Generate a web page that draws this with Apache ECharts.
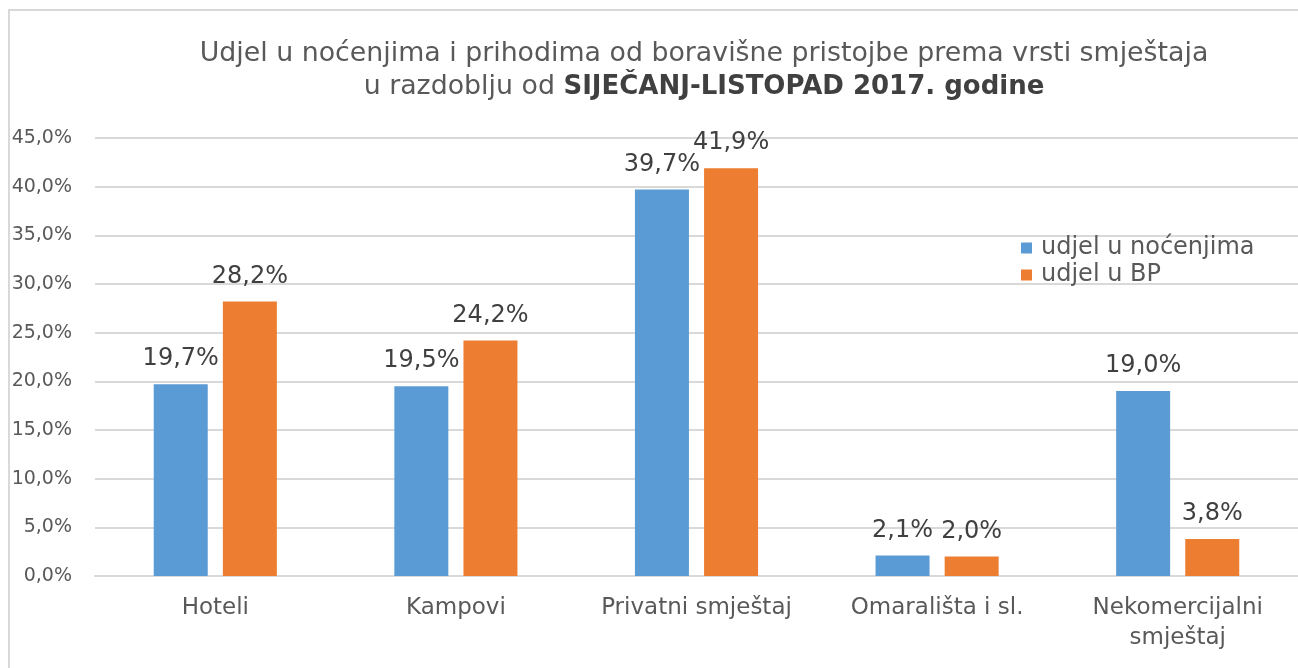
<!DOCTYPE html>
<html lang="hr" style="height: 100%">
<head>
    <meta charset="utf-8">
    <title>Udjel u noćenjima i prihodima od boravišne pristojbe</title>
    <script src="https://cdn.jsdelivr.net/npm/echarts@6/dist/echarts.min.js"></script>
</head>
<body style="height: 100%; margin: 0; background: #fff">
<div id="container" style="width: 1298px; height: 668px"></div>
<script type="text/javascript">
    // data
    const categories = ['Hoteli', 'Kampovi', 'Privatni smještaj', 'Omarališta i sl.', 'Nekomercijalni\nsmještaj'];
    const nocenja = [19.7, 19.5, 39.7, 2.1, 19.0];
    const boravisna = [28.2, 24.2, 41.9, 2.0, 3.8];
    const seriesNames = ['udjel u noćenjima', 'udjel u BP'];

    const font = '"DejaVu Sans", Verdana, sans-serif';

    function pct(v) {
        return Number(v).toFixed(1).replace('.', ',') + '%';
    }

    var myChart = echarts.init(document.getElementById('container'), null, {renderer: 'canvas'});

    var barLabel = {
        show: true,
        position: 'top',
        distance: 13,
        fontFamily: font,
        fontSize: 24,
        color: '#404040',
        formatter: function (p) { return pct(p.value); }
    };

    var option = {
        backgroundColor: '#ffffff',
        textStyle: {fontFamily: font},
        title: [
            {
                text: 'Udjel u noćenjima i prihodima od boravišne pristojbe prema vrsti smještaja',
                left: 699,
                top: 36,
                textAlign: 'center',
                textStyle: {fontFamily: font, fontSize: 26.8, fontWeight: 'normal', color: '#595959'}
            },
            {
                text: 'u razdoblju od {b|SIJEČANJ-LISTOPAD 2017. godine}',
                left: 699,
                top: 69,
                textAlign: 'center',
                textStyle: {
                    fontFamily: font, fontSize: 26.8, fontWeight: 'normal', color: '#595959',
                    rich: {b: {fontFamily: font, fontSize: 26, fontWeight: 'bold', color: '#404040'}}
                }
            }
        ],
        graphic: [
            {
                type: 'rect',
                shape: {x: 9, y: 10, width: 1400, height: 800},
                style: {fill: 'none', stroke: '#d9d9d9', lineWidth: 2},
                silent: true
            }
        ],
        legend: {
            orient: 'vertical',
            left: 1016,
            top: 231,
            itemWidth: 11,
            itemHeight: 11,
            itemGap: 3,
            icon: 'rect',
            textStyle: {fontFamily: font, fontSize: 24, color: '#595959', padding: [0, 0, 0, 4]},
            data: seriesNames
        },
        grid: {
            left: 95,
            right: 0,
            top: 138,
            bottom: 92
        },
        xAxis: {
            type: 'category',
            data: categories,
            axisLine: {lineStyle: {color: '#d9d9d9', width: 2}},
            axisTick: {show: false},
            axisLabel: {
                interval: 0,
                hideOverlap: false,
                fontFamily: font,
                fontSize: 23,
                color: '#595959',
                margin: 17,
                lineHeight: 30
            }
        },
        yAxis: {
            type: 'value',
            min: 0,
            max: 45,
            interval: 5,
            axisLine: {show: false},
            axisTick: {show: false},
            splitLine: {lineStyle: {color: '#d9d9d9', width: 2}},
            axisLabel: {
                fontFamily: font,
                fontSize: 19,
                color: '#595959',
                margin: 23,
                formatter: pct
            }
        },
        series: [
            {
                name: seriesNames[0],
                type: 'bar',
                data: nocenja,
                barWidth: 54,
                barGap: '28%',
                itemStyle: {color: '#5b9bd5'},
                label: barLabel
            },
            {
                name: seriesNames[1],
                type: 'bar',
                data: boravisna,
                barWidth: 54,
                itemStyle: {color: '#ed7d31'},
                label: barLabel
            }
        ],
        animation: false
    };

    myChart.setOption(option);
    window.addEventListener('resize', myChart.resize);
</script>
</body>
</html>
